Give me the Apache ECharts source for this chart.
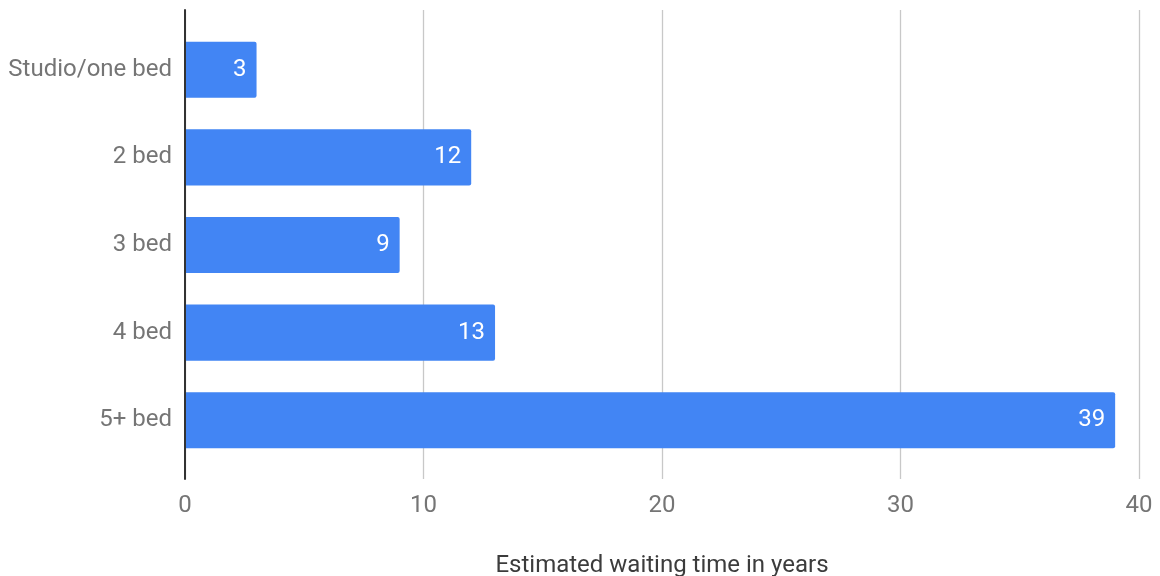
<!DOCTYPE html>
<html>
<head>
<meta charset="utf-8">
<script src="https://cdn.jsdelivr.net/npm/echarts@6/dist/echarts.min.js"></script>
<style>
html,body{margin:0;padding:0;background:#fff;}
#chart{width:1160px;height:576px;}
</style>
</head>
<body>
<div id="chart"></div>
<script>
const categories = ["Studio/one bed", "2 bed", "3 bed", "4 bed", "5+ bed"];
const waitingYears = [3, 12, 9, 13, 39];
const xTicks = { min: 0, max: 40, interval: 10 };
const axisTitle = "Estimated waiting time in years";

const chart = echarts.init(document.getElementById('chart'), null, {renderer: 'canvas'});
const font = 'Roboto, "Noto Sans", sans-serif';
chart.setOption({
  animation: false,
  grid: [
    {left: 185, right: 21, top: 10, bottom: 97, containLabel: false, outerBoundsMode: 'none'},
    {left: 185, right: 21, top: 26, bottom: 112, containLabel: false, outerBoundsMode: 'none'}
  ],
  xAxis: [
    {
      gridIndex: 0, type: 'value', min: xTicks.min, max: xTicks.max, interval: xTicks.interval,
      axisLine: {show: false}, axisTick: {show: false},
      splitLine: {show: true, lineStyle: {color: '#c8c8c8', width: 1.3}},
      axisLabel: {color: '#757575', fontSize: 24, fontFamily: font, margin: 15},
      name: axisTitle, nameLocation: 'middle', nameGap: 75,
      nameTextStyle: {color: '#3c3c3c', fontSize: 24, fontFamily: font}
    },
    {
      gridIndex: 1, type: 'value', min: xTicks.min, max: xTicks.max, interval: xTicks.interval,
      show: false
    }
  ],
  yAxis: [
    {
      gridIndex: 0, type: 'value', min: 0, max: 1, z: 10,
      axisLine: {show: true, onZero: false, lineStyle: {color: '#333333', width: 2}},
      axisTick: {show: false}, axisLabel: {show: false}, splitLine: {show: false}
    },
    {
      gridIndex: 1, type: 'category', data: categories, inverse: true,
      axisLine: {show: false}, axisTick: {show: false}, splitLine: {show: false},
      axisLabel: {color: '#757575', fontSize: 24, fontFamily: font, margin: 13, padding: [3, 0, 0, 0]}
    }
  ],
  series: [{
    type: 'bar', xAxisIndex: 1, yAxisIndex: 1, data: waitingYears,
    barWidth: '64%',
    itemStyle: {color: '#4285F4', borderRadius: [0, 2, 2, 0]},
    label: {show: true, position: 'insideRight', distance: 10, color: '#ffffff', fontSize: 24, fontFamily: font}
  }]
});
</script>
</body>
</html>
